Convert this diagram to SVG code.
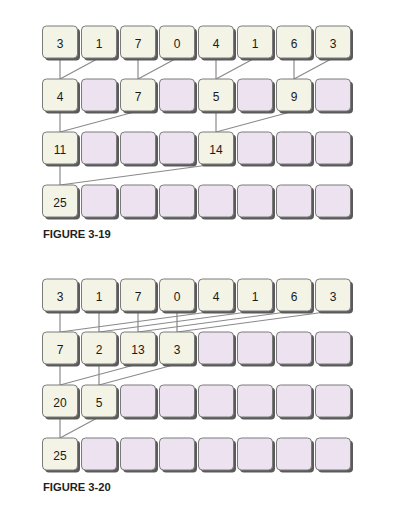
<svg xmlns="http://www.w3.org/2000/svg" width="418" height="506" viewBox="0 0 418 506">
<style>
.sh{fill:#5a5a5a}
.f{fill:#f3f3e6;stroke:#7a7a7a;stroke-width:1}
.e{fill:#ede3f0;stroke:#7a7a7a;stroke-width:1}
.t{font-family:"Liberation Sans",Arial,sans-serif;font-size:12px;fill:#1a1a1a;text-anchor:middle}
.cap{font-family:"Liberation Sans",Arial,sans-serif;font-size:11.2px;font-weight:bold;fill:#231f20}
.c line{stroke:#8a8a8a;stroke-width:1.2}
</style>
<rect width="418" height="506" fill="#ffffff"/>
<g id="connectors" class="c">
<!-- Figure 3-19 -->
<line x1="60" y1="58" x2="60" y2="79"/>
<line x1="99" y1="58" x2="60" y2="79"/>
<line x1="138" y1="58" x2="138" y2="79"/>
<line x1="177" y1="58" x2="138" y2="79"/>
<line x1="216" y1="58" x2="216" y2="79"/>
<line x1="255" y1="58" x2="216" y2="79"/>
<line x1="294" y1="58" x2="294" y2="79"/>
<line x1="333" y1="58" x2="294" y2="79"/>
<line x1="60" y1="111" x2="60" y2="132"/>
<line x1="138" y1="111" x2="60" y2="132"/>
<line x1="216" y1="111" x2="216" y2="132"/>
<line x1="294" y1="111" x2="216" y2="132"/>
<line x1="60" y1="164" x2="60" y2="185"/>
<line x1="216" y1="164" x2="60" y2="185"/>
<!-- Figure 3-20 -->
<line x1="60" y1="311" x2="60" y2="332"/>
<line x1="99" y1="311" x2="99" y2="332"/>
<line x1="138" y1="311" x2="138" y2="332"/>
<line x1="177" y1="311" x2="177" y2="332"/>
<line x1="216" y1="311" x2="60" y2="332"/>
<line x1="255" y1="311" x2="99" y2="332"/>
<line x1="294" y1="311" x2="138" y2="332"/>
<line x1="333" y1="311" x2="177" y2="332"/>
<line x1="60" y1="364" x2="60" y2="385"/>
<line x1="99" y1="364" x2="99" y2="385"/>
<line x1="138" y1="364" x2="60" y2="385"/>
<line x1="177" y1="364" x2="99" y2="385"/>
<line x1="60" y1="417" x2="60" y2="438"/>
<line x1="99" y1="417" x2="60" y2="438"/>
</g>
<defs>
<g id="boxF"><rect class="sh" x="2.5" y="2.5" width="35" height="32" rx="4"/><rect class="f" x="0" y="0" width="35" height="32" rx="4"/></g>
<g id="boxE"><rect class="sh" x="2.5" y="2.5" width="35" height="32" rx="4"/><rect class="e" x="0" y="0" width="35" height="32" rx="4"/></g>
</defs>
<!-- Figure 3-19 row 1 -->
<g id="a1_0"><use href="#boxF" x="42.5" y="26"/><text class="t" x="60" y="47.5">3</text></g>
<g id="a1_1"><use href="#boxF" x="81.5" y="26"/><text class="t" x="99" y="47.5">1</text></g>
<g id="a1_2"><use href="#boxF" x="120.5" y="26"/><text class="t" x="138" y="47.5">7</text></g>
<g id="a1_3"><use href="#boxF" x="159.5" y="26"/><text class="t" x="177" y="47.5">0</text></g>
<g id="a1_4"><use href="#boxF" x="198.5" y="26"/><text class="t" x="216" y="47.5">4</text></g>
<g id="a1_5"><use href="#boxF" x="237.5" y="26"/><text class="t" x="255" y="47.5">1</text></g>
<g id="a1_6"><use href="#boxF" x="276.5" y="26"/><text class="t" x="294" y="47.5">6</text></g>
<g id="a1_7"><use href="#boxF" x="315.5" y="26"/><text class="t" x="333" y="47.5">3</text></g>
<!-- row 2 -->
<g id="a2_0"><use href="#boxF" x="42.5" y="79"/><text class="t" x="60" y="100.5">4</text></g>
<g id="a2_1"><use href="#boxE" x="81.5" y="79"/></g>
<g id="a2_2"><use href="#boxF" x="120.5" y="79"/><text class="t" x="138" y="100.5">7</text></g>
<g id="a2_3"><use href="#boxE" x="159.5" y="79"/></g>
<g id="a2_4"><use href="#boxF" x="198.5" y="79"/><text class="t" x="216" y="100.5">5</text></g>
<g id="a2_5"><use href="#boxE" x="237.5" y="79"/></g>
<g id="a2_6"><use href="#boxF" x="276.5" y="79"/><text class="t" x="294" y="100.5">9</text></g>
<g id="a2_7"><use href="#boxE" x="315.5" y="79"/></g>
<!-- row 3 -->
<g id="a3_0"><use href="#boxF" x="42.5" y="132"/><text class="t" x="60" y="153.5">11</text></g>
<g id="a3_1"><use href="#boxE" x="81.5" y="132"/></g>
<g id="a3_2"><use href="#boxE" x="120.5" y="132"/></g>
<g id="a3_3"><use href="#boxE" x="159.5" y="132"/></g>
<g id="a3_4"><use href="#boxF" x="198.5" y="132"/><text class="t" x="216" y="153.5">14</text></g>
<g id="a3_5"><use href="#boxE" x="237.5" y="132"/></g>
<g id="a3_6"><use href="#boxE" x="276.5" y="132"/></g>
<g id="a3_7"><use href="#boxE" x="315.5" y="132"/></g>
<!-- row 4 -->
<g id="a4_0"><use href="#boxF" x="42.5" y="185"/><text class="t" x="60" y="206.5">25</text></g>
<g id="a4_1"><use href="#boxE" x="81.5" y="185"/></g>
<g id="a4_2"><use href="#boxE" x="120.5" y="185"/></g>
<g id="a4_3"><use href="#boxE" x="159.5" y="185"/></g>
<g id="a4_4"><use href="#boxE" x="198.5" y="185"/></g>
<g id="a4_5"><use href="#boxE" x="237.5" y="185"/></g>
<g id="a4_6"><use href="#boxE" x="276.5" y="185"/></g>
<g id="a4_7"><use href="#boxE" x="315.5" y="185"/></g>
<text id="cap1" class="cap" x="43" y="237.5">FIGURE 3-19</text>
<!-- Figure 3-20 row 1 -->
<g id="b1_0"><use href="#boxF" x="42.5" y="279"/><text class="t" x="60" y="300.5">3</text></g>
<g id="b1_1"><use href="#boxF" x="81.5" y="279"/><text class="t" x="99" y="300.5">1</text></g>
<g id="b1_2"><use href="#boxF" x="120.5" y="279"/><text class="t" x="138" y="300.5">7</text></g>
<g id="b1_3"><use href="#boxF" x="159.5" y="279"/><text class="t" x="177" y="300.5">0</text></g>
<g id="b1_4"><use href="#boxF" x="198.5" y="279"/><text class="t" x="216" y="300.5">4</text></g>
<g id="b1_5"><use href="#boxF" x="237.5" y="279"/><text class="t" x="255" y="300.5">1</text></g>
<g id="b1_6"><use href="#boxF" x="276.5" y="279"/><text class="t" x="294" y="300.5">6</text></g>
<g id="b1_7"><use href="#boxF" x="315.5" y="279"/><text class="t" x="333" y="300.5">3</text></g>
<!-- row 2 -->
<g id="b2_0"><use href="#boxF" x="42.5" y="332"/><text class="t" x="60" y="353.5">7</text></g>
<g id="b2_1"><use href="#boxF" x="81.5" y="332"/><text class="t" x="99" y="353.5">2</text></g>
<g id="b2_2"><use href="#boxF" x="120.5" y="332"/><text class="t" x="138" y="353.5">13</text></g>
<g id="b2_3"><use href="#boxF" x="159.5" y="332"/><text class="t" x="177" y="353.5">3</text></g>
<g id="b2_4"><use href="#boxE" x="198.5" y="332"/></g>
<g id="b2_5"><use href="#boxE" x="237.5" y="332"/></g>
<g id="b2_6"><use href="#boxE" x="276.5" y="332"/></g>
<g id="b2_7"><use href="#boxE" x="315.5" y="332"/></g>
<!-- row 3 -->
<g id="b3_0"><use href="#boxF" x="42.5" y="385"/><text class="t" x="60" y="406.5">20</text></g>
<g id="b3_1"><use href="#boxF" x="81.5" y="385"/><text class="t" x="99" y="406.5">5</text></g>
<g id="b3_2"><use href="#boxE" x="120.5" y="385"/></g>
<g id="b3_3"><use href="#boxE" x="159.5" y="385"/></g>
<g id="b3_4"><use href="#boxE" x="198.5" y="385"/></g>
<g id="b3_5"><use href="#boxE" x="237.5" y="385"/></g>
<g id="b3_6"><use href="#boxE" x="276.5" y="385"/></g>
<g id="b3_7"><use href="#boxE" x="315.5" y="385"/></g>
<!-- row 4 -->
<g id="b4_0"><use href="#boxF" x="42.5" y="438"/><text class="t" x="60" y="459.5">25</text></g>
<g id="b4_1"><use href="#boxE" x="81.5" y="438"/></g>
<g id="b4_2"><use href="#boxE" x="120.5" y="438"/></g>
<g id="b4_3"><use href="#boxE" x="159.5" y="438"/></g>
<g id="b4_4"><use href="#boxE" x="198.5" y="438"/></g>
<g id="b4_5"><use href="#boxE" x="237.5" y="438"/></g>
<g id="b4_6"><use href="#boxE" x="276.5" y="438"/></g>
<g id="b4_7"><use href="#boxE" x="315.5" y="438"/></g>
<text id="cap2" class="cap" x="43" y="490.5">FIGURE 3-20</text>
</svg>
